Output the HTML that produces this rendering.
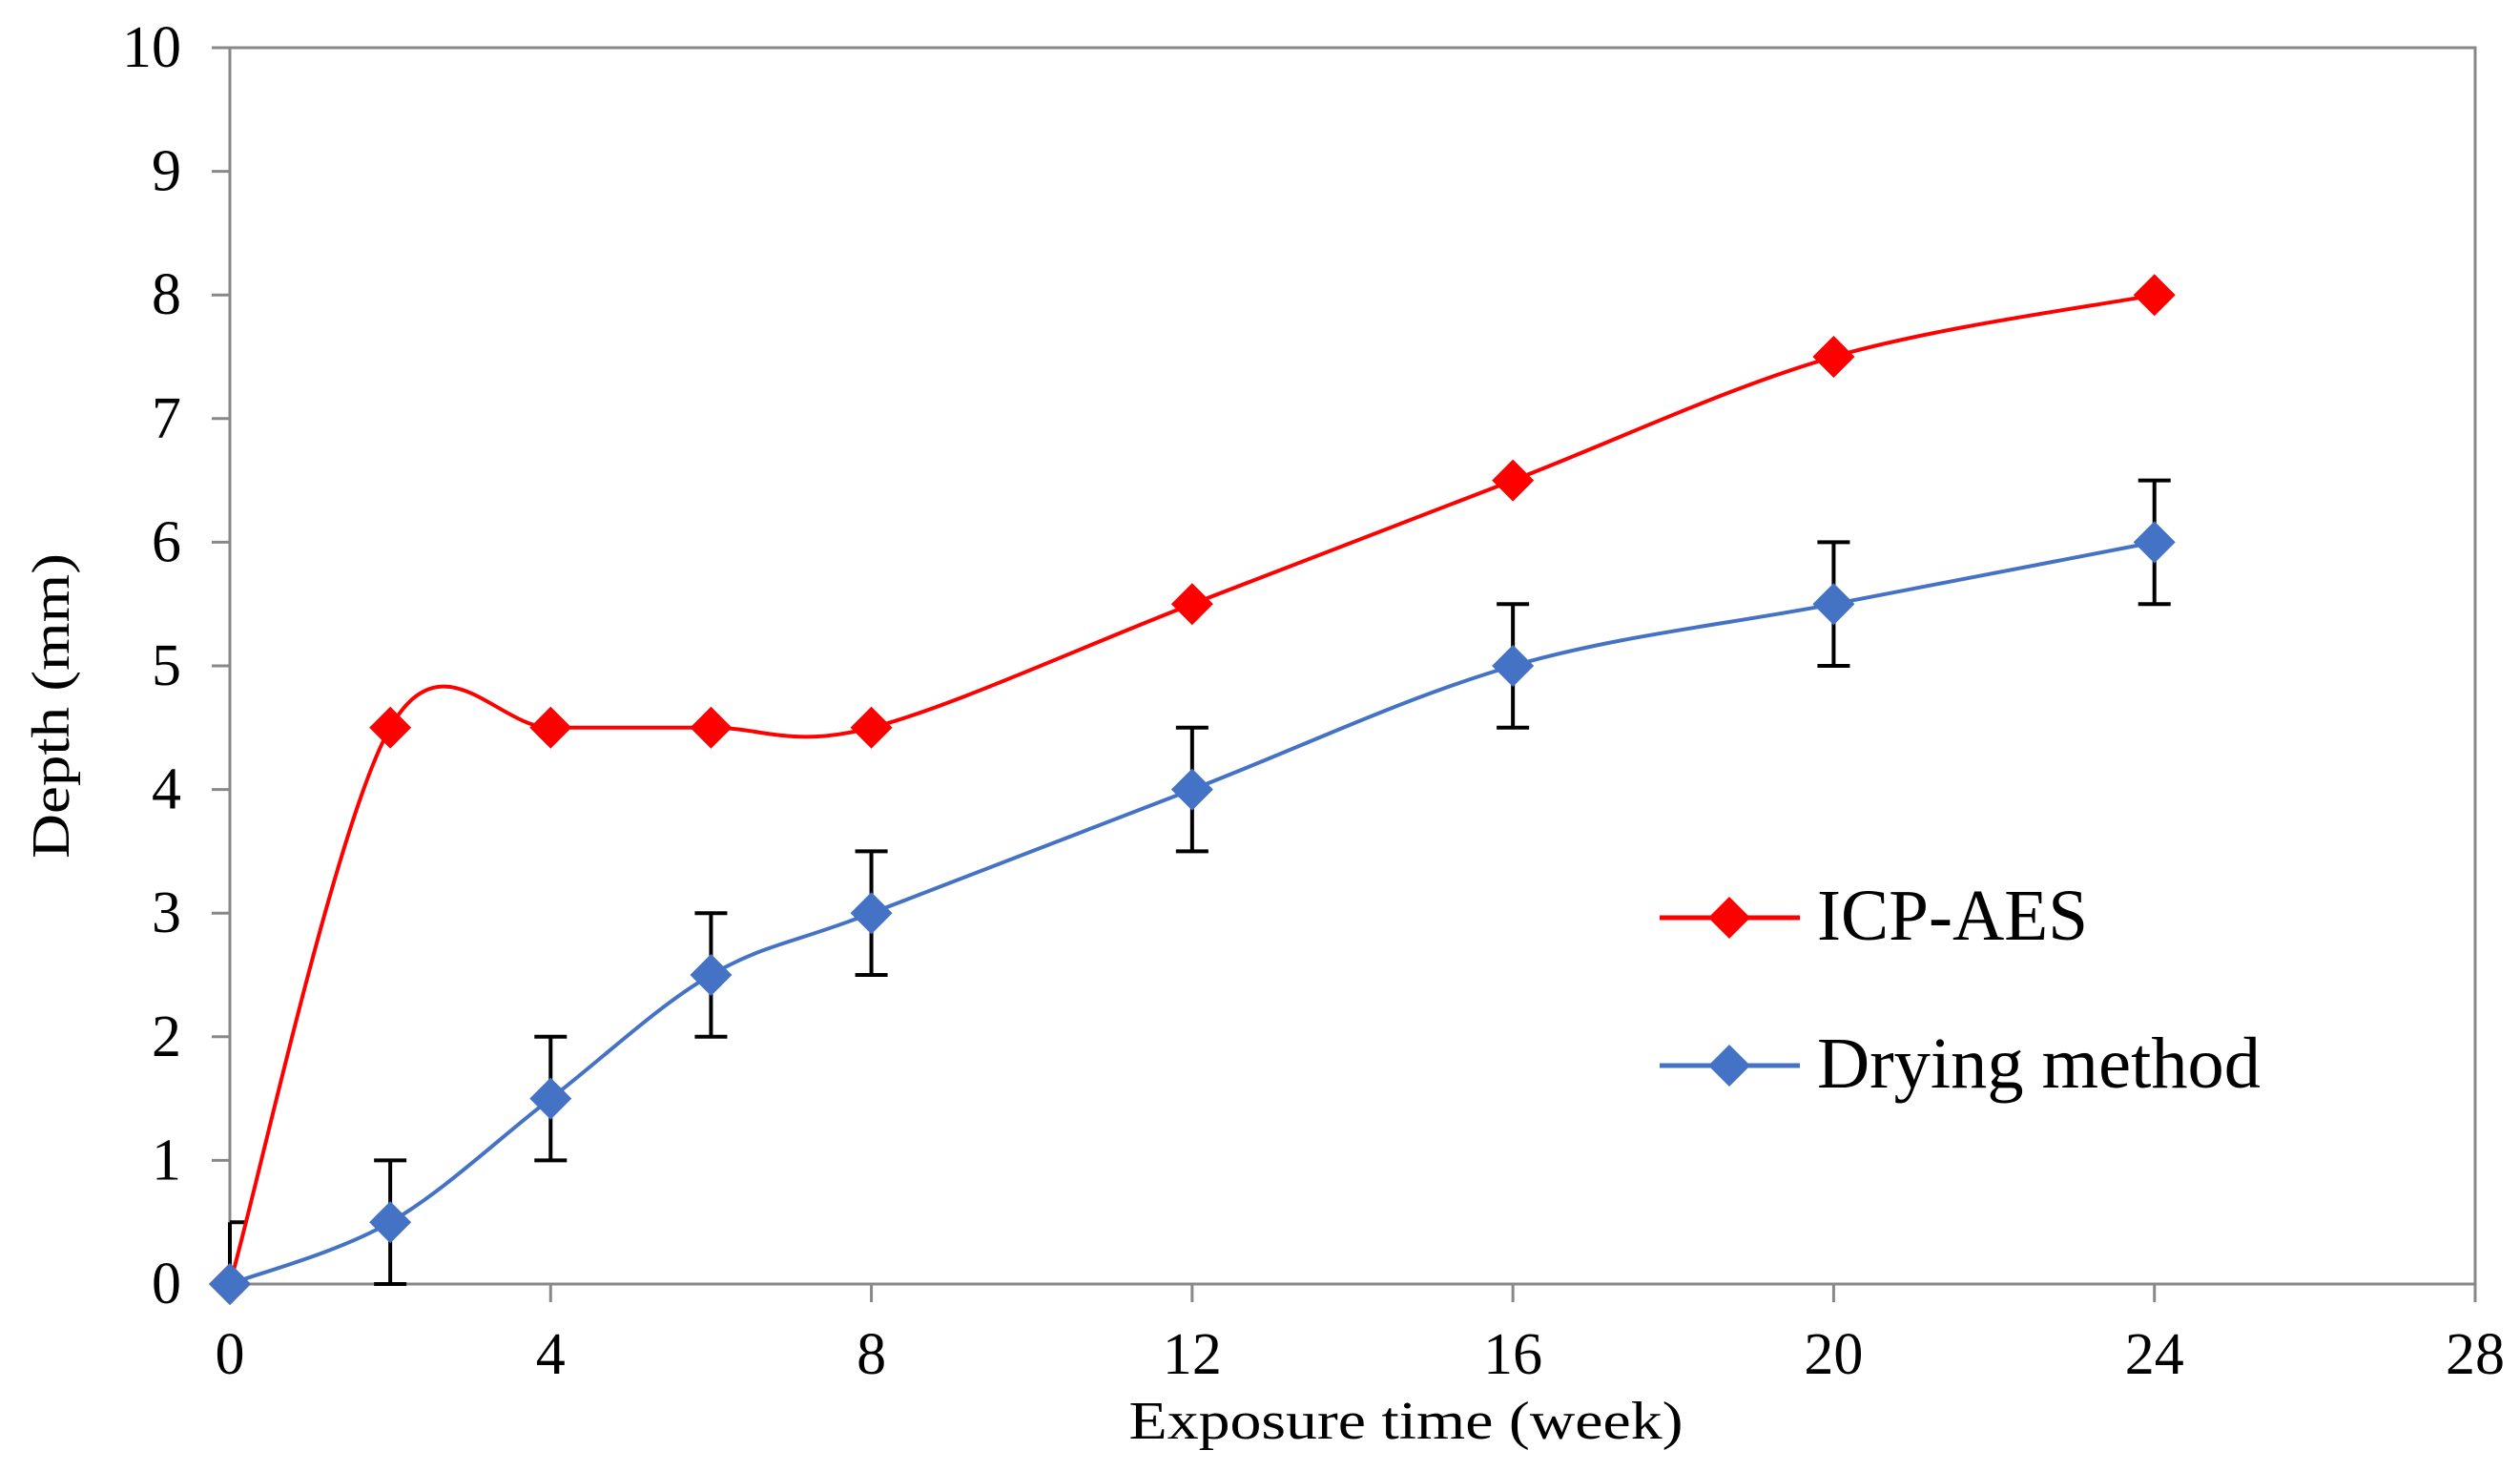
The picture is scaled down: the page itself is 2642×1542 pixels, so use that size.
<!DOCTYPE html>
<html><head><meta charset="utf-8"><style>
html,body{margin:0;padding:0;background:#fff;}
svg{display:block;}
text{font-family:"Liberation Serif",serif;fill:#000;}
</style></head><body>
<svg id="chart" width="2642" height="1542" viewBox="0 0 2642 1542" xmlns="http://www.w3.org/2000/svg">
<rect width="2642" height="1542" fill="#fff"/>
<g id="axes"></g>
<g id="series"></g>
<g>
  <g>
    <line x1="1740" y1="962" x2="1887" y2="962" stroke="#ff0000" stroke-width="5"/>
    <path d="M1813,940 L1835,962 L1813,984 L1791,962 Z" fill="#ff0000"/>
    <text x="1905" y="985" font-size="76" textLength="284" lengthAdjust="spacingAndGlyphs">ICP-AES</text>
  </g>
  <g>
    <line x1="1740" y1="1117" x2="1887" y2="1117" stroke="#4472c4" stroke-width="5"/>
    <path d="M1813,1095 L1835,1117 L1813,1139 L1791,1117 Z" fill="#4472c4"/>
    <text x="1905" y="1140" font-size="76" textLength="465" lengthAdjust="spacingAndGlyphs">Drying method</text>
  </g>
</g>
<text x="1474" y="1508" font-size="56" text-anchor="middle" textLength="581" lengthAdjust="spacingAndGlyphs">Exposure time (week)</text>
<text transform="translate(72,740) rotate(-90)" x="0" y="0" font-size="56" text-anchor="middle" textLength="320" lengthAdjust="spacingAndGlyphs">Depth (mm)</text>
</svg>
<script>
const xTicks = [0,4,8,12,16,20,24,28];
const yTicks = [0,1,2,3,4,5,6,7,8,9,10];
const weeks = [0,2,4,6,8,12,16,20,24];
const icpValues = [0,4.5,4.5,4.5,4.5,5.5,6.5,7.5,8];
const dryingValues = [0,0.5,1.5,2.5,3,4,5,5.5,6];
const dryingErrPlus = [0.5,0.5,0.5,0.5,0.5,0.5,0.5,0.5,0.5];
const dryingErrMinus = [0,0.5,0.5,0.5,0.5,0.5,0.5,0.5,0.5];

const X0=241, X1=2595, Y0=1346, Y1=50;
const xs = v => X0 + (v-0)/(28-0)*(X1-X0);
const ys = v => Y0 - (v-0)/(10-0)*(Y0-Y1);
const NS='http://www.w3.org/2000/svg';
function mk(tag, attrs, parent){const e=document.createElementNS(NS,tag);for(const k in attrs)e.setAttribute(k,attrs[k]);parent.appendChild(e);return e;}
const axes=document.getElementById('axes');
const series=document.getElementById('series');

const frame=mk('rect',{x:X0,y:Y1,width:X1-X0,height:Y0-Y1,fill:'none',stroke:'#888',"stroke-width":3},axes);



yTicks.forEach(t=>{
  const y=ys(t);
  const tk=mk('line',{x1:X0-19,y1:y,x2:X0,y2:y,stroke:'#888',"stroke-width":3},axes);
  
  
  const lb=mk('text',{x:190,y:y+20,"font-size":62,"text-anchor":"end"},axes);
  lb.textContent=t;
  
  
});
xTicks.forEach(t=>{
  const x=xs(t);
  const tk=mk('line',{x1:x,y1:Y0,x2:x,y2:Y0+19,stroke:'#888',"stroke-width":3},axes);
  
  
  const lb=mk('text',{x:x,y:1440,"font-size":62,"text-anchor":"middle"},axes);
  lb.textContent=t;
  
  
});

function smoothPath(pts){
  let d='M'+pts[0][0]+','+pts[0][1];
  for(let i=0;i<pts.length-1;i++){
    const p0=pts[i-1]||pts[i], p1=pts[i], p2=pts[i+1], p3=pts[i+2]||p2;
    const t=1/6;
    const c1=[p1[0]+(p2[0]-p0[0])*t, p1[1]+(p2[1]-p0[1])*t];
    const c2=[p2[0]-(p3[0]-p1[0])*t, p2[1]-(p3[1]-p1[1])*t];
    d+=' C'+c1[0]+','+c1[1]+' '+c2[0]+','+c2[1]+' '+p2[0]+','+p2[1];
  }
  return d;
}
function diamond(x,y,r){return 'M'+x+','+(y-r)+' L'+(x+r)+','+y+' L'+x+','+(y+r)+' L'+(x-r)+','+y+' Z';}

// error bars for drying method
weeks.forEach((w,i)=>{
  const x=xs(w), yt=ys(dryingValues[i]+dryingErrPlus[i]), yb=ys(dryingValues[i]-dryingErrMinus[i]);
  const g=mk('g',{stroke:'#000',"stroke-width":4,fill:'none'},series);
  
  
  mk('line',{x1:x,y1:yt,x2:x,y2:yb},g);
  const hw = i===0 ? 0 : 17;
  mk('line',{x1:x-hw,y1:yt,x2:x+17,y2:yt},g);
  if(dryingErrMinus[i]>0) mk('line',{x1:x-17,y1:yb,x2:x+17,y2:yb},g);
});

function drawSeries(vals,color,name){
  const pts=weeks.map((w,i)=>[xs(w),ys(vals[i])]);
  const p=mk('path',{d:smoothPath(pts),fill:'none',stroke:color,"stroke-width":4},series);
  
  
  pts.forEach(pt=>{
    const m=mk('path',{d:diamond(pt[0],pt[1],22),fill:color},series);
    
    
  });
}
drawSeries(icpValues,'#ff0000','icp-aes');
drawSeries(dryingValues,'#4472c4','drying-method');
</script>
</body></html>
